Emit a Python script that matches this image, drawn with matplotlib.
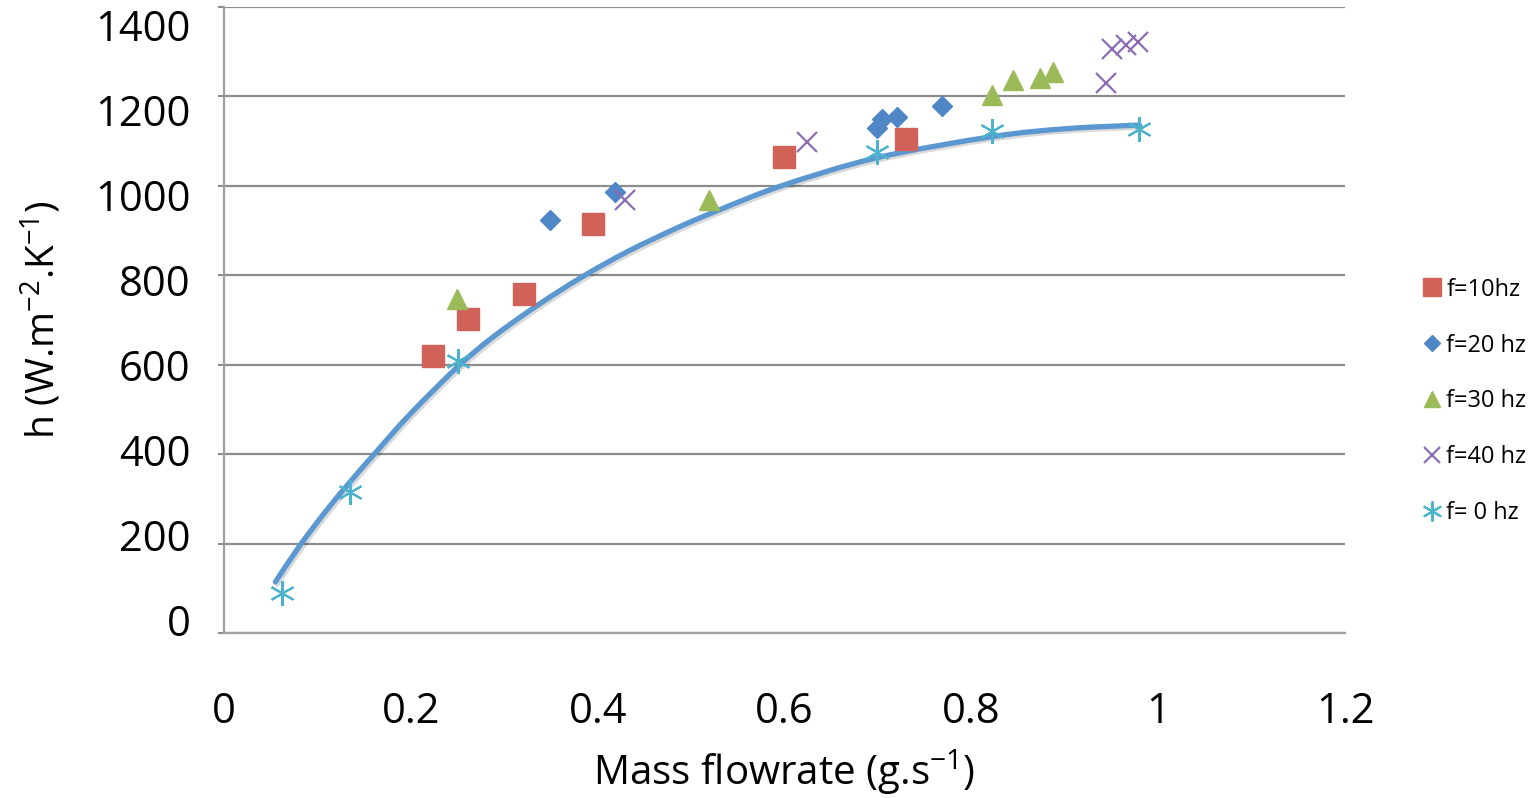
import numpy as np
import matplotlib
matplotlib.use('Agg')
import matplotlib.pyplot as plt
import matplotlib.patheffects as pe
from matplotlib.path import Path
from matplotlib.patches import PathPatch

plt.rcParams['font.family'] = ['Open Sans', 'DejaVu Sans']
plt.rcParams['mathtext.fontset'] = 'custom'
plt.rcParams['mathtext.rm'] = 'Open Sans'
plt.rcParams['mathtext.default'] = 'regular'

# f = 10 hz
x10 = [0.224, 0.261, 0.321, 0.395, 0.599, 0.730]
h10 = [620, 702, 758, 915, 1065, 1105]
# f = 20 hz
x20 = [0.349, 0.419, 0.699, 0.704, 0.720, 0.769]
h20 = [924, 986, 1129, 1150, 1154, 1179]
# f = 30 hz
x30 = [0.249, 0.519, 0.822, 0.845, 0.873, 0.887]
h30 = [747, 968, 1203, 1237, 1241, 1255]
# f = 40 hz
x40 = [0.429, 0.624, 0.944, 0.951, 0.966, 0.978]
h40 = [968, 1098, 1230, 1306, 1315, 1322]
# f = 0 hz
x0 = [0.062, 0.135, 0.250, 0.699, 0.822, 0.979]
h0 = [89, 315, 608, 1076, 1123, 1127]

# trend curve
xc = [0.055, 0.081, 0.110, 0.135, 0.160, 0.199, 0.250, 0.288, 0.335, 0.383,
      0.431, 0.485, 0.531, 0.598, 0.699, 0.822, 0.902, 0.980]
hc = [114, 195, 275, 338, 398, 489, 595, 662, 732, 796,
      852, 906, 947, 1001, 1063, 1110, 1128, 1136]

xticks = [0, 0.2, 0.4, 0.6, 0.8, 1, 1.2]
xticklabels = ['0', '0.2', '0.4', '0.6', '0.8', '1', '1.2']
yticks = [0, 200, 400, 600, 800, 1000, 1200, 1400]
yticklabels = ['0', '200', '400', '600', '800', '1000', '1200', '1400']


def smooth_path(xs, ys):
    # Excel-like smoothed line: cubic Bezier segments through the points
    p = np.column_stack([xs, ys]).astype(float)
    verts = [p[0]]
    codes = [Path.MOVETO]
    for i in range(len(p) - 1):
        p0 = p[i - 1] if i > 0 else p[i]
        p3 = p[i + 2] if i + 2 < len(p) else p[i + 1]
        c1 = p[i] + (p[i + 1] - p0) / 6.0
        c2 = p[i + 1] - (p3 - p[i]) / 6.0
        verts += [c1, c2, p[i + 1]]
        codes += [Path.CURVE4] * 3
    return Path(verts, codes)


fig = plt.figure(figsize=(15.33, 7.98), dpi=100)
ax = fig.add_axes([0.1461, 0.2068, 0.7313, 0.7844])

curve = PathPatch(smooth_path(xc, hc), fill=False, edgecolor='#5B97D0', lw=3.8,
                  capstyle='round', zorder=2,
                  path_effects=[pe.SimpleLineShadow(offset=(1.5, -1.5), alpha=0.15),
                                pe.Normal()])
ax.add_patch(curve)

ax.plot(x10, h10, 's', ms=15.5, color='#D0625A', label='f=10hz', zorder=3)
ax.plot(x20, h20, 'D', ms=10.5, color='#4F86C6', label='f=20 hz', zorder=3)
ax.plot(x30, h30, '^', ms=15, color='#9BBB59', label='f=30 hz', zorder=3)
ax.plot(x40, h40, 'x', ms=15, mew=1.6, color='#8C6DB3', label='f=40 hz', zorder=3)
ax.plot(x0, h0, marker=(6, 2, 0), ls='none', ms=18, mew=1.5, color='#4BB4CC',
        label='f= 0 hz', zorder=3)

ax.set_xlim(0, 1.2)
ax.set_ylim(0, 1400)
ax.set_xticks(xticks)
ax.set_xticklabels(xticklabels)
ax.tick_params(axis='x', length=0, pad=42, labelsize=30)

# gridlines / tick marks on the major ticks, labels sit slightly off them as in the original
ax.set_yticks(yticks)
ax.set_yticklabels([])
ax.set_yticks([29 + 0.95 * v for v in yticks], minor=True)
ax.set_yticklabels(yticklabels, minor=True)
ax.tick_params(axis='y', which='major', length=4, width=1.5, color='#8C8C8C')
ax.tick_params(axis='y', which='minor', length=0, pad=24, labelsize=30)

ax.grid(axis='y', which='major', color='#8C8C8C', lw=1.6)
ax.set_axisbelow(True)
for s in ['top', 'right']:
    ax.spines[s].set_visible(False)
for s in ['left', 'bottom']:
    ax.spines[s].set_color('#A0A0A0')
    ax.spines[s].set_linewidth(1.6)

ax.set_xlabel('Mass flowrate (g.s$^{-1}$)', fontsize=29, labelpad=10)
ax.set_ylabel('h (W.m$^{-2}$.K$^{-1}$)', fontsize=28, labelpad=22)

fig.legend(loc='center left', bbox_to_anchor=(0.922, 0.497), frameon=False,
           fontsize=17, markerscale=0.8, handlelength=0.8, handletextpad=0.2,
           labelspacing=1.35, borderaxespad=0)

fig.savefig('out.png', dpi=100)
